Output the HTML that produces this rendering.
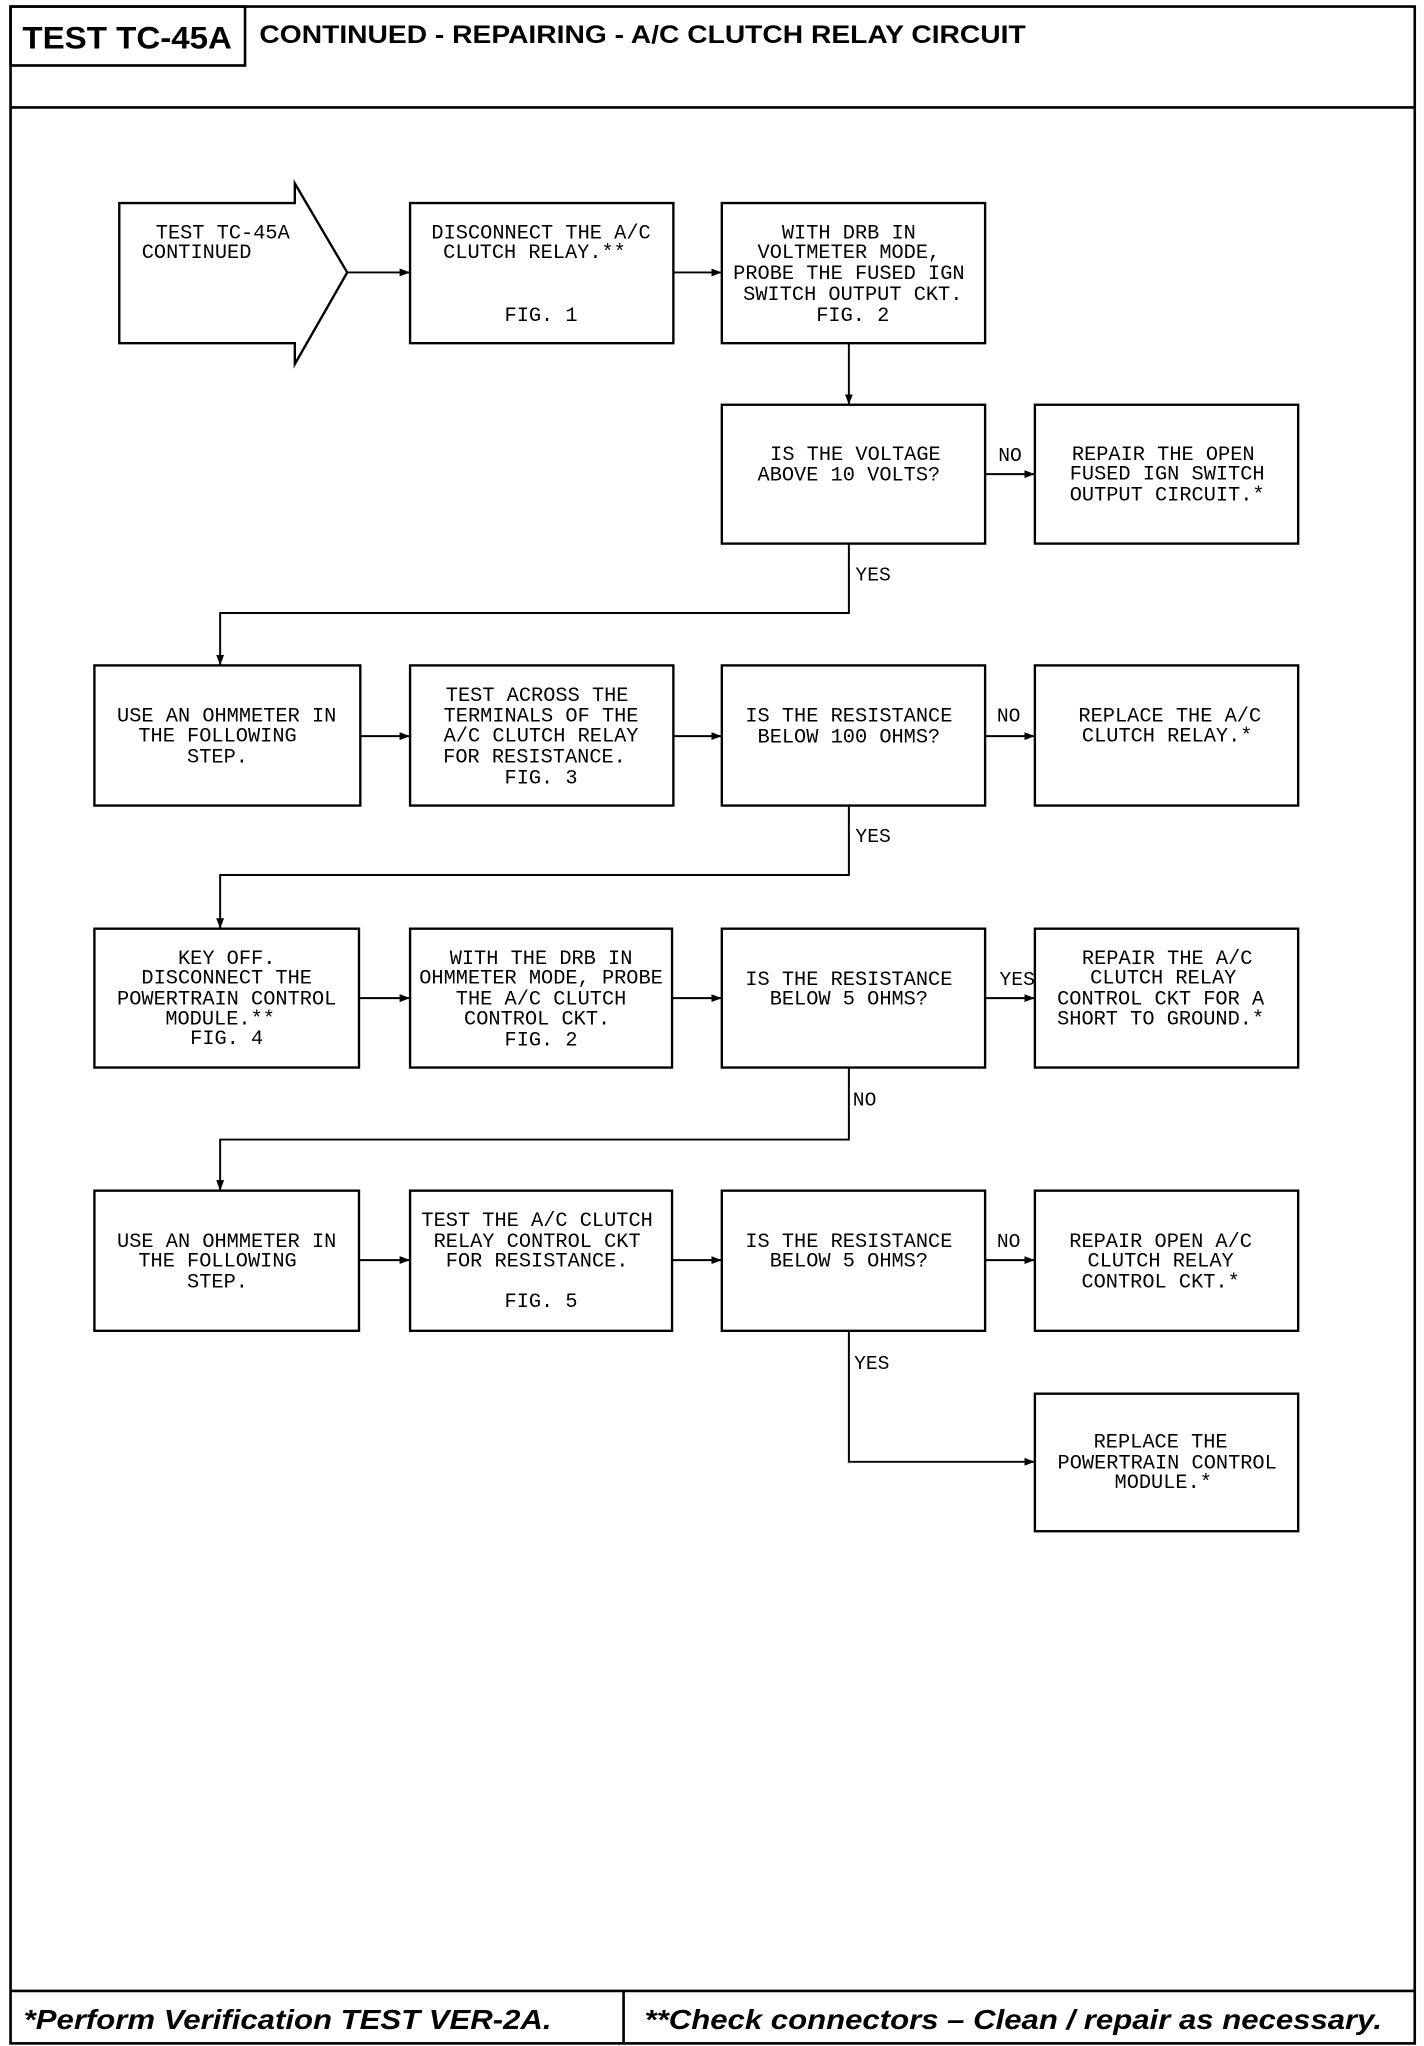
<!DOCTYPE html>
<html><head><meta charset="utf-8"><style>html,body{margin:0;padding:0;background:#fff}svg{display:block}</style></head>
<body>
<svg width="1424" height="2046" viewBox="0 0 1087 1562" xmlns="http://www.w3.org/2000/svg">
<defs><marker id="a" markerWidth="8" markerHeight="6" refX="8" refY="3" orient="auto" markerUnits="userSpaceOnUse"><path d="M0,0 L8,3 L0,6 z" fill="#000"/></marker></defs>
<g fill="none" stroke="#000" stroke-width="2">
<rect x="8" y="5" width="1072" height="1555"/>
<line x1="8" y1="82" x2="1080" y2="82"/>
<rect x="8" y="5" width="179" height="45"/>
<line x1="8" y1="1520" x2="1080" y2="1520"/>
<line x1="476" y1="1520" x2="476" y2="1560"/>
<path d="M91,155 L225,155 L225,140 L265,208 L225,278 L225,262 L91,262 Z" stroke-width="1.8"/>
<g stroke-width="1.8">
<rect x="313" y="155" width="201" height="107"/>
<rect x="551" y="155" width="201" height="107"/>
<rect x="551" y="309" width="201" height="106"/>
<rect x="790" y="309" width="201" height="106"/>
<rect x="72" y="508" width="203" height="107"/>
<rect x="313" y="508" width="201" height="107"/>
<rect x="551" y="508" width="201" height="107"/>
<rect x="790" y="508" width="201" height="107"/>
<rect x="72" y="709" width="202" height="106"/>
<rect x="313" y="709" width="200" height="106"/>
<rect x="551" y="709" width="201" height="106"/>
<rect x="790" y="709" width="201" height="106"/>
<rect x="72" y="909" width="202" height="107"/>
<rect x="313" y="909" width="200" height="107"/>
<rect x="551" y="909" width="201" height="107"/>
<rect x="790" y="909" width="201" height="107"/>
<rect x="790" y="1064" width="201" height="105"/>
</g>
<g stroke-width="1.5" marker-end="url(#a)">
<line x1="265" y1="208" x2="313" y2="208"/>
<line x1="514" y1="208" x2="551" y2="208"/>
<line x1="648" y1="262" x2="648" y2="309"/>
<line x1="752" y1="362" x2="790" y2="362"/>
<path d="M648,415 L648,468 L168,468 L168,508"/>
<line x1="275" y1="562" x2="313" y2="562"/>
<line x1="514" y1="562" x2="551" y2="562"/>
<line x1="752" y1="562" x2="790" y2="562"/>
<path d="M648,615 L648,668 L168,668 L168,709"/>
<line x1="274" y1="762" x2="313" y2="762"/>
<line x1="513" y1="762" x2="551" y2="762"/>
<line x1="752" y1="762" x2="790" y2="762"/>
<path d="M648,815 L648,870 L168,870 L168,909"/>
<line x1="274" y1="962" x2="313" y2="962"/>
<line x1="513" y1="962" x2="551" y2="962"/>
<line x1="752" y1="962" x2="790" y2="962"/>
<path d="M648,1016 L648,1116 L790,1116"/>
</g>
</g>
<g font-family="Liberation Sans, sans-serif" font-weight="bold" fill="#000">
<text x="17" y="37" font-size="24" textLength="160" lengthAdjust="spacingAndGlyphs">TEST TC-45A</text>
<text x="198" y="33" font-size="19" textLength="585" lengthAdjust="spacingAndGlyphs">CONTINUED - REPAIRING - A/C CLUTCH RELAY CIRCUIT</text>
<text x="18" y="1549" font-size="21" font-style="italic" textLength="403" lengthAdjust="spacingAndGlyphs">*Perform Verification TEST VER-2A.</text>
<text x="492" y="1549" font-size="21" font-style="italic" textLength="563" lengthAdjust="spacingAndGlyphs">**Check connectors – Clean / repair as necessary.</text>
</g>
<g font-family="Liberation Mono, monospace" font-size="15.5" fill="#000" text-anchor="middle">
<text x="170" y="182">TEST TC-45A</text>
<text x="150" y="197">CONTINUED</text>
<text x="413" y="182">DISCONNECT THE A/C</text><text x="408" y="197">CLUTCH RELAY.**</text><text x="413" y="245">FIG. 1</text>
<text x="648" y="182">WITH DRB IN</text><text x="648" y="197">VOLTMETER MODE,</text><text x="648" y="213">PROBE THE FUSED IGN</text><text x="651" y="229">SWITCH OUTPUT CKT.</text><text x="651" y="245">FIG. 2</text>
<text x="653" y="351">IS THE VOLTAGE</text><text x="648" y="367">ABOVE 10 VOLTS?</text>
<text x="888" y="351">REPAIR THE OPEN</text><text x="891" y="366">FUSED IGN SWITCH</text><text x="891" y="382">OUTPUT CIRCUIT.*</text>
<text x="173" y="551">USE AN OHMMETER IN</text><text x="166" y="566">THE FOLLOWING</text><text x="166" y="582">STEP.</text>
<text x="410" y="535">TEST ACROSS THE</text><text x="413" y="551">TERMINALS OF THE</text><text x="413" y="566">A/C CLUTCH RELAY</text><text x="408" y="582">FOR RESISTANCE.</text><text x="413" y="598">FIG. 3</text>
<text x="648" y="551">IS THE RESISTANCE</text><text x="648" y="567">BELOW 100 OHMS?</text>
<text x="893" y="551">REPLACE THE A/C</text><text x="891" y="566">CLUTCH RELAY.*</text>
<text x="173" y="736">KEY OFF.</text><text x="173" y="751">DISCONNECT THE</text><text x="173" y="767">POWERTRAIN CONTROL</text><text x="168" y="782">MODULE.**</text><text x="173" y="797">FIG. 4</text>
<text x="413" y="736">WITH THE DRB IN</text><text x="413" y="751">OHMMETER MODE, PROBE</text><text x="413" y="767">THE A/C CLUTCH</text><text x="410" y="782">CONTROL CKT.</text><text x="413" y="798">FIG. 2</text>
<text x="648" y="752">IS THE RESISTANCE</text><text x="648" y="767">BELOW 5 OHMS?</text>
<text x="891" y="736">REPAIR THE A/C</text><text x="888" y="751">CLUTCH RELAY</text><text x="886" y="767">CONTROL CKT FOR A</text><text x="886" y="782">SHORT TO GROUND.*</text>
<text x="173" y="952">USE AN OHMMETER IN</text><text x="166" y="967">THE FOLLOWING</text><text x="166" y="983">STEP.</text>
<text x="410" y="936">TEST THE A/C CLUTCH</text><text x="410" y="952">RELAY CONTROL CKT</text><text x="410" y="967">FOR RESISTANCE.</text><text x="413" y="998">FIG. 5</text>
<text x="648" y="952">IS THE RESISTANCE</text><text x="648" y="967">BELOW 5 OHMS?</text>
<text x="886" y="952">REPAIR OPEN A/C</text><text x="886" y="967">CLUTCH RELAY</text><text x="886" y="983">CONTROL CKT.*</text>
<text x="886" y="1105">REPLACE THE</text><text x="891" y="1121">POWERTRAIN CONTROL</text><text x="888" y="1136">MODULE.*</text>
</g>
<g font-family="Liberation Mono, monospace" font-size="15" fill="#000">
<text x="762" y="352">NO</text>
<text x="653" y="443">YES</text>
<text x="761" y="551">NO</text>
<text x="653" y="643">YES</text>
<text x="763" y="752">YES</text>
<text x="651" y="844">NO</text>
<text x="761" y="952">NO</text>
<text x="652" y="1045">YES</text>
</g>
</svg>
</body></html>
